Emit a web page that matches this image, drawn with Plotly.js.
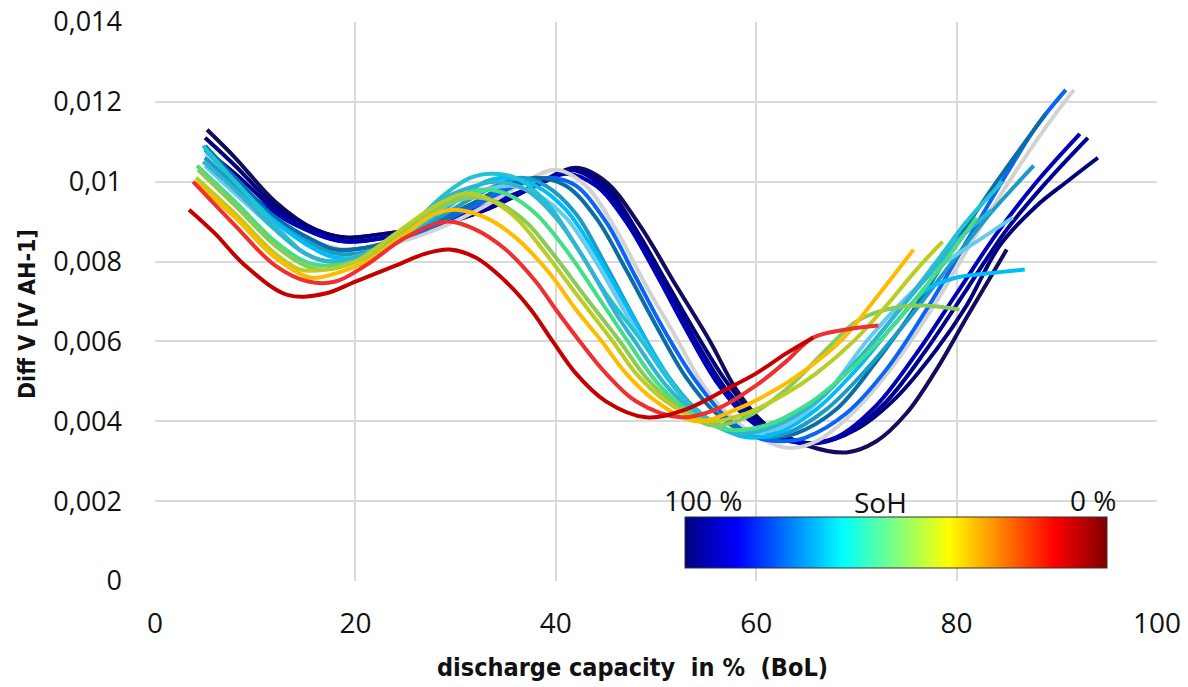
<!DOCTYPE html>
<html><head><meta charset="utf-8">
<script src="https://cdn.plot.ly/plotly-3.0.1.min.js"></script>
<style>html,body{margin:0;padding:0;background:#fff}#chart{width:1188px;height:687px}</style>
</head><body><div id="chart"></div>
<script>
// ---- data ----
const curveNames = ['SoH 1','SoH 2','SoH 3','SoH 4','SoH ref','SoH 6','SoH 7','SoH 8','SoH 9','SoH 10','SoH 11','SoH 12','SoH 13','SoH 14','SoH 15','SoH 16','SoH 17','SoH 18'];
const curveColors = ['#140a5e','#00007a','#000090','#0000b4','#d2d2d2','#0a64f5','#0a6ea6','#1a9cc6','#00bcf8','#66ccee','#22c2d4','#30b4d0','#44dd88','#88cc55','#bbcc22','#ffbb00','#ee3030','#c40000'];

const x01 = [5.2, 8, 12, 16, 19, 23, 28, 33, 38, 42, 45, 48.4, 52, 55.4, 58, 61, 65, 69, 72, 75, 78, 81, 85];
const y01 = [0.0113, 0.0106, 0.0095, 0.0088, 0.0086, 0.0087, 0.0089, 0.0093, 0.0099, 0.01035, 0.0100, 0.0089, 0.0074, 0.0060, 0.0048, 0.0039, 0.0034, 0.00322, 0.0035, 0.0042, 0.0053, 0.0066, 0.0083];
const x02 = [5, 8, 12, 16, 19, 23, 28, 33, 38, 42, 45, 48, 51, 54, 57, 60, 63, 66, 70, 74, 78, 81, 84.3, 88, 91, 94.1];
const y02 = [0.0111, 0.0104, 0.0094, 0.0088, 0.0086, 0.0087, 0.0089, 0.0093, 0.0099, 0.0103, 0.0099, 0.0088, 0.0075, 0.0062, 0.0050, 0.0041, 0.0036, 0.00345, 0.0038, 0.0046, 0.0058, 0.0069, 0.0084, 0.0094, 0.0100, 0.0106];
const x03 = [5, 8, 12, 16, 19, 23, 28, 33, 38, 41.5, 45, 48, 51, 54, 57, 60, 63, 65.5, 69, 73, 77, 81, 85, 89, 93.1];
const y03 = [0.0108, 0.0102, 0.0093, 0.0087, 0.0085, 0.0086, 0.0089, 0.0093, 0.0099, 0.0103, 0.0098, 0.0087, 0.0074, 0.0060, 0.0048, 0.0040, 0.0036, 0.00345, 0.0037, 0.0045, 0.0058, 0.0073, 0.0088, 0.0100, 0.0111];
const x04 = [5, 8, 12, 16, 19, 23, 28, 33, 38, 41, 44, 47, 50, 53, 56, 59, 62, 65, 68, 72, 76, 80, 84, 88, 92.3];
const y04 = [0.0106, 0.0100, 0.0092, 0.0087, 0.0085, 0.0086, 0.0089, 0.0094, 0.0099, 0.0102, 0.0099, 0.0090, 0.0077, 0.0063, 0.0050, 0.0041, 0.0036, 0.00345, 0.0036, 0.0044, 0.0057, 0.0072, 0.0087, 0.0100, 0.0112];
const x05 = [5, 8, 12, 16, 19, 23, 28, 33, 37, 40, 43, 46, 49, 52, 55, 58, 61, 63.4, 66, 70, 74, 78, 82, 86, 89, 91.7];
const y05 = [0.0107, 0.0100, 0.0091, 0.0085, 0.0083, 0.0084, 0.0088, 0.0094, 0.0100, 0.0103, 0.0099, 0.0088, 0.0074, 0.0061, 0.0048, 0.0040, 0.0035, 0.00333, 0.0035, 0.0043, 0.0055, 0.0070, 0.0087, 0.0103, 0.0114, 0.0123];
const x06 = [5, 8, 12, 16, 18, 22, 27, 32, 36, 39.5, 42, 45, 48, 51, 54, 57, 60, 62.5, 65, 69, 73, 77, 81, 85, 88, 90.9];
const y06 = [0.0108, 0.0101, 0.0091, 0.0085, 0.0083, 0.0084, 0.0088, 0.0094, 0.0099, 0.0101, 0.0099, 0.0090, 0.0076, 0.0062, 0.0050, 0.0041, 0.0036, 0.0035, 0.0036, 0.0042, 0.0053, 0.0068, 0.0085, 0.0102, 0.0114, 0.0123];
const x07 = [5, 8, 12, 16, 18, 22, 27, 32, 35, 38, 41, 44, 47, 50, 53, 56, 59, 61.5, 64, 68, 72, 76, 80, 84, 88.9];
const y07 = [0.0109, 0.0101, 0.0091, 0.0085, 0.0083, 0.0084, 0.0089, 0.0095, 0.0099, 0.0101, 0.0099, 0.0091, 0.0078, 0.0064, 0.0051, 0.0042, 0.0037, 0.0036, 0.0037, 0.0043, 0.0055, 0.0069, 0.0085, 0.0100, 0.0117];
const x08 = [5, 8, 12, 16, 18, 22, 27, 31, 34, 36.5, 39, 42, 45, 48, 51, 54, 57, 60.5, 63, 67, 71, 75, 79, 83, 87.7];
const y08 = [0.0106, 0.0099, 0.0090, 0.0084, 0.0082, 0.0083, 0.0089, 0.0095, 0.0099, 0.0101, 0.0099, 0.0092, 0.0079, 0.0065, 0.0052, 0.0043, 0.0038, 0.0036, 0.0037, 0.0043, 0.0053, 0.0065, 0.0078, 0.0091, 0.0104];
const x09 = [5, 8, 12, 16, 18, 22, 26, 30, 33, 35, 38, 41, 44, 47, 50, 53, 56, 59, 62, 66, 70, 74, 77, 80, 83, 86.8];
const y09 = [0.0108, 0.0100, 0.0090, 0.0083, 0.0081, 0.0082, 0.0088, 0.0095, 0.0100, 0.0101, 0.0099, 0.0093, 0.0082, 0.0069, 0.0056, 0.0045, 0.0039, 0.0036, 0.0037, 0.0043, 0.0053, 0.0065, 0.0073, 0.0076, 0.0077, 0.0078];
const x10 = [5, 8, 12, 15, 17.5, 21, 25, 29, 33, 35.5, 38, 41, 44, 47, 50, 53, 56, 59.5, 63, 67, 71, 75, 79, 82, 85.6];
const y10 = [0.0104, 0.0097, 0.0088, 0.0082, 0.0080, 0.0082, 0.0087, 0.0094, 0.0098, 0.0099, 0.0097, 0.0091, 0.0080, 0.0067, 0.0055, 0.0045, 0.0039, 0.0037, 0.0039, 0.0047, 0.0060, 0.0071, 0.0080, 0.0085, 0.0091];
const x11 = [4.8, 8, 12, 15, 17.5, 21, 25, 29, 31.5, 33.5, 36, 39, 42, 45, 48.6, 52, 55, 58.5, 62, 66, 70, 74, 78, 81, 84.6];
const y11 = [0.0109, 0.0100, 0.0089, 0.0082, 0.0080, 0.0082, 0.0088, 0.0097, 0.0101, 0.0102, 0.0101, 0.0095, 0.0084, 0.0072, 0.0060, 0.0048, 0.0041, 0.0037, 0.0039, 0.0045, 0.0055, 0.0067, 0.0080, 0.0090, 0.0100];
const x12 = [4.8, 8, 12, 15, 17.5, 21, 25, 29, 32, 34, 37, 40, 43, 46, 47.9, 51, 54, 58, 62, 66, 70, 74, 77, 80, 83.5];
const y12 = [0.0105, 0.0098, 0.0088, 0.0082, 0.0080, 0.0082, 0.0088, 0.0096, 0.0099, 0.0100, 0.0098, 0.0091, 0.0080, 0.0067, 0.0060, 0.0049, 0.0042, 0.0037, 0.0039, 0.0045, 0.0055, 0.0067, 0.0076, 0.0085, 0.0093];
const x13 = [4.2, 8, 12, 15, 17, 21, 25, 29, 32.5, 35, 38, 41, 44, 47.2, 50, 53, 57, 61, 65, 69, 73, 77, 82];
const y13 = [0.0104, 0.0095, 0.0085, 0.0080, 0.0079, 0.0081, 0.0088, 0.0095, 0.0098, 0.0097, 0.0092, 0.0083, 0.0072, 0.0060, 0.0050, 0.0043, 0.0038, 0.0039, 0.0044, 0.0052, 0.0062, 0.0074, 0.0091];
const x14 = [4.3, 8, 12, 15, 17, 20, 24, 28, 31.5, 34, 37, 40, 43, 46.4, 49, 52, 55.5, 59, 63, 67, 70, 73, 76.5, 80.3];
const y14 = [0.0103, 0.0094, 0.0084, 0.0079, 0.0078, 0.0080, 0.0086, 0.0093, 0.0096, 0.0095, 0.0090, 0.0081, 0.0071, 0.0060, 0.0051, 0.0044, 0.0039, 0.0041, 0.0048, 0.0058, 0.0065, 0.0068, 0.0069, 0.0068];
const x15 = [4.1, 8, 12, 14.5, 17, 20, 24, 28, 30.8, 33, 36, 39, 42, 45.7, 48, 51, 55, 59, 63, 66, 69.7, 73, 76, 78.6];
const y15 = [0.0101, 0.0092, 0.0082, 0.0078, 0.0078, 0.0080, 0.0087, 0.0094, 0.0097, 0.0096, 0.0091, 0.0082, 0.0072, 0.0060, 0.0052, 0.0045, 0.0040, 0.0042, 0.0047, 0.0052, 0.0060, 0.0069, 0.0078, 0.0085];
const x16 = [4, 8, 12, 15.5, 18, 21, 25, 28, 30, 33, 36, 39.4, 42, 44.6, 47, 50, 54, 58, 62, 65, 68.4, 72, 75.7];
const y16 = [0.0100, 0.0091, 0.0081, 0.0076, 0.0077, 0.0080, 0.0087, 0.0092, 0.0093, 0.0091, 0.0086, 0.0077, 0.0068, 0.0060, 0.0052, 0.0045, 0.0040, 0.0043, 0.0048, 0.0053, 0.0060, 0.0071, 0.0083];
const x17 = [3.8, 8, 12, 15.3, 18, 21, 25, 29, 32, 35, 38, 40, 42.4, 45, 48, 52.4, 56, 60, 63, 65.7, 69, 72.2];
const y17 = [0.0100, 0.0089, 0.0079, 0.0075, 0.0075, 0.0079, 0.0086, 0.0090, 0.0088, 0.0083, 0.0075, 0.0068, 0.0060, 0.0052, 0.0045, 0.0041, 0.0043, 0.0049, 0.0055, 0.0061, 0.0063, 0.0064];
const x18 = [3.4, 6, 9, 13.3, 17, 20, 24, 27, 29.4, 32, 35, 37.5, 39.7, 42, 45, 49, 53, 57, 60, 63, 65.7];
const y18 = [0.0093, 0.0087, 0.0079, 0.00716, 0.0072, 0.0075, 0.0079, 0.0082, 0.0083, 0.0081, 0.0075, 0.0068, 0.0060, 0.0052, 0.0045, 0.0041, 0.0043, 0.0048, 0.0052, 0.0057, 0.0061];

const curveX = [x01,x02,x03,x04,x05,x06,x07,x08,x09,x10,x11,x12,x13,x14,x15,x16,x17,x18];
const curveY = [y01,y02,y03,y04,y05,y06,y07,y08,y09,y10,y11,y12,y13,y14,y15,y16,y17,y18];

const xTickVals = [0, 20, 40, 60, 80, 100];
const xTickText = ['0', '20', '40', '60', '80', '100'];
const yTickVals = [0, 0.002, 0.004, 0.006, 0.008, 0.01, 0.012, 0.014];
const yTickText = ['0', '0,002', '0,004', '0,006', '0,008', '0,01', '0,012', '0,014'];
const sohScaleLabels = ['100 %', 'SoH', '0 %'];

// ---- traces ----
const traces = curveX.map((xs, i) => ({
  type: 'scatter', mode: 'lines', x: xs, y: curveY[i], name: curveNames[i],
  line: {color: curveColors[i], width: 4, shape: 'spline', smoothing: 1},
  hoverinfo: 'x+y+name', showlegend: false
}));

const jet = [[0,'rgb(0,0,128)'],[0.125,'rgb(0,0,255)'],[0.375,'rgb(0,255,255)'],[0.625,'rgb(255,255,0)'],[0.875,'rgb(255,0,0)'],[1,'rgb(128,0,0)']];
traces.push({
  type: 'scatter', mode: 'markers', x: [null], y: [null], hoverinfo: 'skip', showlegend: false,
  marker: {color: [0], cmin: 0, cmax: 1, colorscale: jet, showscale: true,
    colorbar: {orientation: 'h', x: 0.7395, xanchor: 'center', y: 0.0206, yanchor: 'bottom',
      len: 0.421, lenmode: 'fraction', thickness: 51, thicknessmode: 'pixels',
      outlinewidth: 1, outlinecolor: '#333', showticklabels: false, ticks: '',
      xpad: 0, ypad: 0, bgcolor: 'rgba(0,0,0,0)', borderwidth: 0}}
});

const labelFont = {family: 'Open Sans, DejaVu Sans, sans-serif', size: 28, color: '#111'};
const titleFont = {family: 'Liberation Sans Narrow, DejaVu Sans Condensed, sans-serif', size: 25, color: '#111'};
const layout = {
  width: 1188, height: 687,
  margin: {l: 155, r: 31, t: 22, b: 106, pad: 0},
  paper_bgcolor: '#fff', plot_bgcolor: '#fff',
  showlegend: false,
  xaxis: {range: [0, 100], tickmode: 'array', tickvals: xTickVals, ticktext: xTickText,
    showgrid: true, gridcolor: '#d9d9d9', gridwidth: 2, zeroline: false, showline: false,
    ticks: '', ticklabelstandoff: 23,
    tickfont: {family: 'Open Sans, DejaVu Sans, sans-serif', size: 28, color: '#111'}},
  yaxis: {range: [0, 0.014], tickmode: 'array', tickvals: yTickVals, ticktext: yTickText,
    showgrid: true, gridcolor: '#d9d9d9', gridwidth: 2, zeroline: false, showline: false,
    ticks: '', ticklabelstandoff: 32,
    tickfont: {family: 'Open Sans, DejaVu Sans, sans-serif', size: 27, color: '#111'}},
  annotations: [
    {text: sohScaleLabels[0], xref: 'paper', yref: 'paper', x: 0.547, y: 0.107, xanchor: 'center', yanchor: 'bottom', showarrow: false, font: labelFont},
    {text: sohScaleLabels[1], xref: 'paper', yref: 'paper', x: 0.7236, y: 0.104, xanchor: 'center', yanchor: 'bottom', showarrow: false, font: labelFont},
    {text: sohScaleLabels[2], xref: 'paper', yref: 'paper', x: 0.936, y: 0.107, xanchor: 'center', yanchor: 'bottom', showarrow: false, font: labelFont},
    {text: '<b>discharge capacity  in %  (BoL)</b>', xref: 'paper', yref: 'paper', x: 0.477, y: -0.1556,
      xanchor: 'center', yanchor: 'middle', showarrow: false, font: titleFont},
    {text: '<b>Diff V [V AH-1]</b>', xref: 'paper', yref: 'paper', x: -0.1277, y: 0.4776, textangle: -90,
      xanchor: 'center', yanchor: 'middle', showarrow: false, font: {family: titleFont.family, size: 23, color: '#111'}}
  ]
};

Plotly.newPlot('chart', traces, layout, {displayModeBar: false, staticPlot: true});
</script></body></html>
